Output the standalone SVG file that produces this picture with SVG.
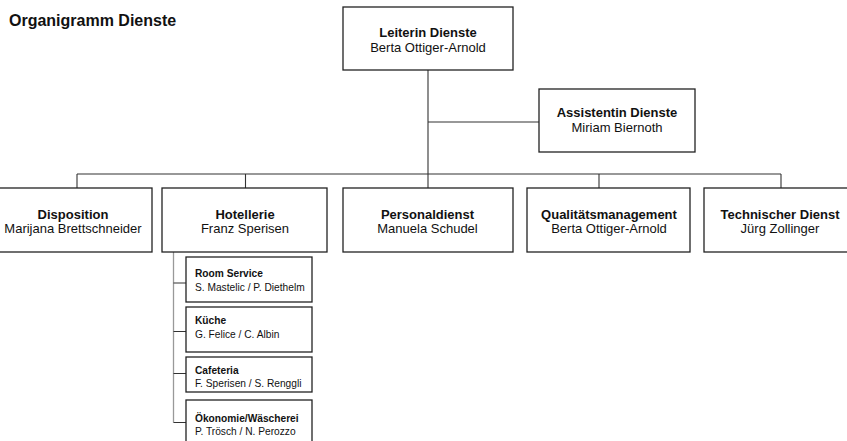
<svg xmlns="http://www.w3.org/2000/svg" width="847" height="441" viewBox="0 0 847 441">
<style>
.box{fill:#fff;stroke:#222;stroke-width:1.3}
.ln{fill:none;stroke:#333;stroke-width:1.1}
.lg{fill:none;stroke:#999;stroke-width:1.3}
text{font-family:"Liberation Sans",Arial,sans-serif;fill:#111}
.t{font-size:13px;font-weight:bold;text-anchor:middle}
.n{font-size:13px;text-anchor:middle}
.st{font-size:10.2px;font-weight:bold}
.sn{font-size:10.2px}
</style>
<rect width="847" height="441" fill="#fff"/>
<text x="9" y="26" style="font-size:16px;font-weight:bold">Organigramm Dienste</text>
<g id="connectors">
<path class="ln" d="M428 70V188M428 122H539M77 174H781M77 174V188M245.5 174V188M599 174V188M781 174V188"/>
<path class="lg" d="M173.5 252V422.5"/>
<path class="ln" d="M173.5 283H186M173.5 331.5H186M173.5 373.5H186M173.5 422.5H186"/>
</g>
<g id="leitung">
<rect class="box" x="343" y="7" width="170" height="63"/>
<text class="t" x="428" y="37">Leiterin Dienste</text>
<text class="n" x="428" y="51.5">Berta Ottiger-Arnold</text>
</g>
<g id="assistenz">
<rect class="box" x="539" y="89" width="156" height="63"/>
<text class="t" x="617" y="117">Assistentin Dienste</text>
<text class="n" x="617" y="131.5">Miriam Biernoth</text>
</g>
<g id="disposition">
<rect class="box" x="-6" y="188" width="158" height="64"/>
<text class="t" x="73" y="218.5">Disposition</text>
<text class="n" x="73" y="233">Marijana Brettschneider</text>
</g>
<g id="hotellerie">
<rect class="box" x="162" y="188" width="165" height="64"/>
<text class="t" x="245" y="218.5">Hotellerie</text>
<text class="n" x="245" y="233">Franz Sperisen</text>
</g>
<g id="personaldienst">
<rect class="box" x="343" y="188" width="170" height="64"/>
<text class="t" x="427.5" y="218.5">Personaldienst</text>
<text class="n" x="427.5" y="233">Manuela Schudel</text>
</g>
<g id="qualitaet">
<rect class="box" x="527" y="188" width="163" height="64"/>
<text class="t" x="609" y="218.5">Qualitätsmanagement</text>
<text class="n" x="609" y="233">Berta Ottiger-Arnold</text>
</g>
<g id="technik">
<rect class="box" x="704" y="188" width="152" height="64"/>
<text class="t" x="780" y="218.5">Technischer Dienst</text>
<text class="n" x="780" y="233">Jürg Zollinger</text>
</g>
<g id="roomservice">
<rect class="box" x="186" y="257" width="126" height="45"/>
<text class="st" x="195" y="276.5">Room Service</text>
<text class="sn" x="195" y="290.5">S. Mastelic / P. Diethelm</text>
</g>
<g id="kueche">
<rect class="box" x="186" y="307" width="126" height="45"/>
<text class="st" x="195" y="324">Küche</text>
<text class="sn" x="195" y="337.5">G. Felice / C. Albin</text>
</g>
<g id="cafeteria">
<rect class="box" x="186" y="357" width="126" height="35"/>
<text class="st" x="195" y="373.5">Cafeteria</text>
<text class="sn" x="195" y="386.5">F. Sperisen / S. Renggli</text>
</g>
<g id="oekonomie">
<rect class="box" x="186" y="400" width="126" height="46"/>
<text class="st" x="195" y="421.5">Ökonomie/Wäscherei</text>
<text class="sn" x="195" y="434.5">P. Trösch / N. Perozzo</text>
</g>
</svg>
